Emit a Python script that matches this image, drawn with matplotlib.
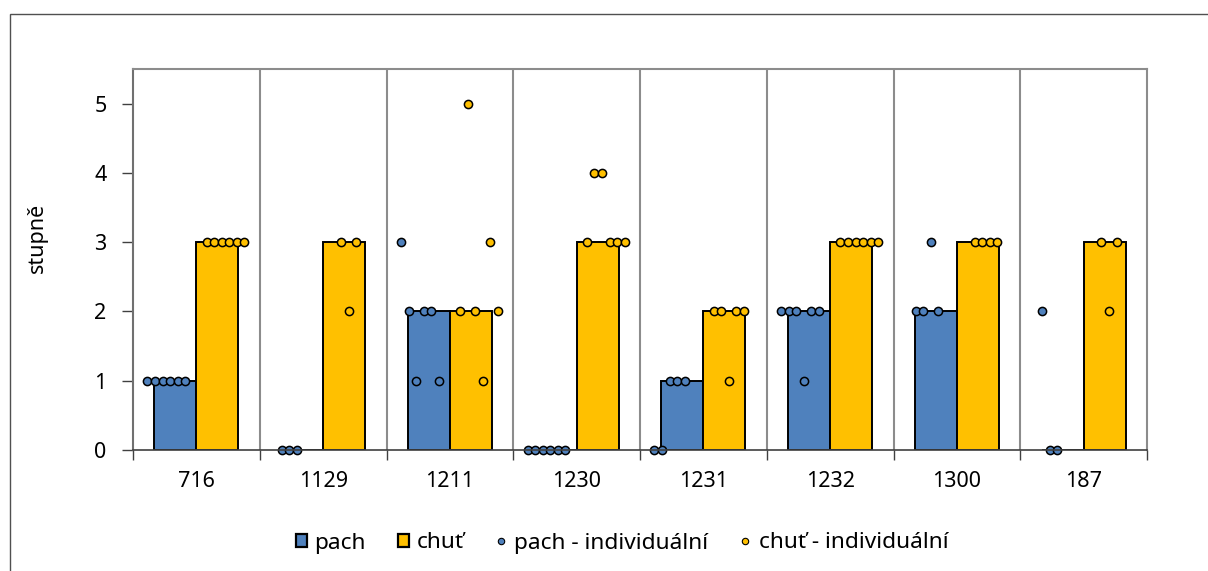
import numpy as np
import matplotlib
matplotlib.use("Agg")
import matplotlib.pyplot as plt
from matplotlib.patches import Patch, Rectangle
from matplotlib.lines import Line2D

plt.rcParams['font.family'] = ['Noto Sans', 'DejaVu Sans']

samples = ["716", "1129", "1211", "1230", "1231", "1232", "1300", "187"]
pach_median = [1, 0, 2, 0, 1, 2, 2, 0]
chut_median = [3, 3, 2, 3, 2, 3, 3, 3]
nan = np.nan
# individual assessor scores (assessor slots 1-6, NaN = missing)
pach_indiv = [
    [1, 1, 1, 1, 1, 1],
    [nan, 0, 0, 0, nan, nan],
    [3, 2, 1, 2, 2, 1],
    [0, 0, 0, 0, 0, 0],
    [0, 0, 1, 1, 1, nan],
    [2, 2, 2, 1, 2, 2],
    [nan, 2, 2, 3, 2, nan],
    [nan, 2, 0, 0, nan, nan],
]
chut_indiv = [
    [3, 3, 3, 3, 3, 3],
    [nan, 3, 2, 3, nan, nan],
    [2, 5, 2, 1, 3, 2],
    [3, 4, 4, 3, 3, 3],
    [2, 2, 1, 2, 2, nan],
    [3, 3, 3, 3, 3, 3],
    [nan, 3, 3, 3, 3, nan],
    [nan, 3, 2, 3, nan, nan],
]

BLUE = "#4F81BD"
YELLOW = "#FFC000"
GRID = "#8C8C8C"
FS = 15.5

W, H = 1208, 571
fig = plt.figure(figsize=(W / 100, H / 100), dpi=100)
ax = fig.add_axes([133 / W, 1 - 450 / H, (1147 - 133) / W, (450 - 69) / H])

x = np.arange(len(samples))
bw = 0.331
ax.bar(x - bw / 2, pach_median, width=bw, color=BLUE, edgecolor="black", linewidth=1.4, zorder=3)
ax.bar(x + bw / 2, chut_median, width=bw, color=YELLOW, edgecolor="black", linewidth=1.4, zorder=3)

slot_step = 0.0596
pach_start = -0.386
chut_start = 0.081
for i in range(len(samples)):
    for k, v in enumerate(pach_indiv[i]):
        if not np.isnan(v):
            ax.plot(i + pach_start + k * slot_step, v, 'o', ms=5.9, mfc=BLUE, mec="black", mew=1.1,
                    zorder=5, clip_on=False)
    for k, v in enumerate(chut_indiv[i]):
        if not np.isnan(v):
            ax.plot(i + chut_start + k * slot_step, v, 'o', ms=5.9, mfc=YELLOW, mec="black", mew=1.1,
                    zorder=5, clip_on=False)

ax.set_xlim(-0.5, len(samples) - 0.5)
ax.set_ylim(0, 5.5)

# category separators
for b in np.arange(0.5, len(samples) - 0.5, 1):
    ax.axvline(b, color=GRID, lw=1.5, zorder=1)

ax.set_yticks(range(0, 6))
ax.set_xticks(np.arange(-0.5, len(samples), 1), minor=False)
ax.set_xticklabels([])
ax.set_xticks(x, minor=True)
ax.set_xticklabels(samples, minor=True)
ax.tick_params(axis='x', which='major', direction='out', length=7, width=1, color="#404040")
ax.tick_params(axis='x', which='minor', length=0, pad=15, labelsize=FS)
ax.tick_params(axis='y', direction='out', length=8, width=1, color="#404040", pad=11, labelsize=FS)

for s in ['top', 'right']:
    ax.spines[s].set_color(GRID)
    ax.spines[s].set_linewidth(1.5)
ax.spines['left'].set_color("#707070")
ax.spines['left'].set_linewidth(1.5)
ax.spines['bottom'].set_color("#404040")
ax.spines['bottom'].set_linewidth(1.2)
ax.spines['bottom'].set_zorder(6)

fig.text(37 / W, 1 - 238 / H, "stupně", rotation=90, ha='center', va='center', fontsize=FS)

handles = [
    Patch(facecolor=BLUE, edgecolor="black", linewidth=1.6),
    Patch(facecolor=YELLOW, edgecolor="black", linewidth=1.6),
    Line2D([], [], ls='', marker='o', ms=4.6, mfc=BLUE, mec="black", mew=0.8),
    Line2D([], [], ls='', marker='o', ms=4.6, mfc=YELLOW, mec="black", mew=0.8),
]
labels = ["pach", "chuť", "pach - individuální", "chuť - individuální"]
fig.legend(handles, labels, loc='center', bbox_to_anchor=(622 / W, 1 - 543 / H), ncol=4,
           frameon=False, fontsize=16.3, handlelength=0.48, handleheight=0.48, handletextpad=0.35,
           columnspacing=1.4, borderaxespad=0)

fig.patches.append(Rectangle((9.5 / W, -0.1), 2, 1.1 - 14 / H, transform=fig.transFigure,
                             fill=False, edgecolor="#505050", linewidth=1.0))

fig.savefig("out.png", dpi=100)
